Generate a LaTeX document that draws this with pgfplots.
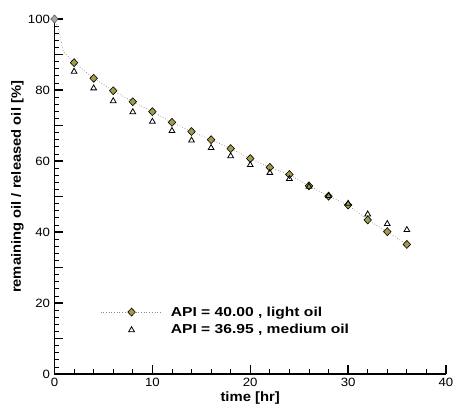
\documentclass[border=0pt]{standalone}
\usepackage{fontspec}
\setmainfont{Liberation Sans}[FakeStretch=1.1]
\newfontfamily\legfont{Liberation Sans}[FakeStretch=1.2]
\usepackage{pgfplots}
\pgfplotsset{compat=1.18}
\definecolor{olivept}{HTML}{A09C4A}
\definecolor{dotline}{HTML}{8C8C8C}
\pgfplotsset{
  lightleg/.style={legend image code/.code={
    \draw[dotline, dotted, line width=0.7pt] (0pt,0pt) -- (62pt,0pt);
    \draw[##1] plot coordinates {(31pt,0pt)};}},
  medleg/.style={legend image code/.code={
    \path[draw=none] (0pt,0pt) -- (62pt,0pt);
    \draw[##1] plot coordinates {(31pt,0pt)};}},
}

\begin{document}
\begin{tikzpicture}
\useasboundingbox (-54.5pt,-34pt) rectangle (398.5pt,374pt);
\begin{axis}[
  scale only axis,
  width=391.5pt, height=355pt,
  xmin=0, xmax=40, ymin=0, ymax=100,
  axis x line=bottom, axis y line=left,
  axis line style={-, line width=1.5pt},
  xtick={0,10,...,40}, minor x tick num=4,
  ytick={0,10,...,100}, yticklabels={0,,20,,40,,60,,80,,100},
  minor y tick num=4,
  tick align=inside,
  major tick length=9pt, minor tick length=5pt,
  every major tick/.style={line width=1.4pt, black},
  every minor tick/.style={line width=0.8pt, black},
  /pgf/number format/assume math mode=true,
  tick label style={font=\fontsize{12}{14}\selectfont},
  xticklabel style={yshift=-1pt},
  yticklabel style={xshift=-1pt},
  xlabel={\textbf{time [hr]}},
  ylabel={\textbf{remaining oil / released oil [\%]}},
  xlabel style={font=\fontsize{13.5}{15}\selectfont,
    at={(axis description cs:0.5,0)}, anchor=center, yshift=-24pt},
  ylabel style={font=\fontsize{13.4}{15}\selectfont,
    at={(axis description cs:0,0.527)}, anchor=center, yshift=37pt},
  legend style={at={(axis cs:4.65,19.6)}, anchor=north west, draw=none, fill=none,
    font=\legfont\bfseries\fontsize{13}{15}\selectfont, inner sep=0pt, row sep=3pt,
    /tikz/every odd column/.append style={column sep=6pt}},
  legend cell align=left,
]
% dotted trend line
\addplot[dotline, dotted, line width=0.7pt, forget plot] coordinates {
  (0,100) (0.4,97.4) (0.9,90.8) (2,87.7) (4,83.3) (6,79.8) (8,76.7) (10,73.9)
  (12,70.9) (14,68.3) (16,66.0) (18,63.5) (20,60.7) (22,58.2) (24,56.2)
  (26,53.0) (28,50.1) (30,47.6) (32,43.4) (34,40.1) (36,36.5)};
\addplot[only marks, mark=diamond*, mark size=4pt,
  mark options={fill=olivept, draw=black, line width=0.6pt, xscale=1.25}, lightleg]
  coordinates {
  (2,87.7) (4,83.3) (6,79.8) (8,76.7) (10,73.9) (12,70.9) (14,68.3)
  (16,66.0) (18,63.5) (20,60.7) (22,58.2) (24,56.2) (26,53.0) (28,50.1)
  (30,47.6) (32,43.4) (34,40.1) (36,36.5)};
\addlegendentry{API = 40.00 , light oil}
\addplot[only marks, mark=triangle, mark size=3.3pt,
  mark options={draw=black, fill=white, line width=0.8pt}, medleg]
  coordinates {
  (2,85.2) (4,80.5) (6,76.9) (8,73.8) (10,71.1) (12,68.5) (14,65.8)
  (16,63.7) (18,61.4) (20,58.9) (22,56.7) (24,55.0) (26,52.8) (28,50.2)
  (30,48.0) (32,45.0) (34,42.3) (36,40.6)};
\addlegendentry{API = 36.95 , medium oil}
\addplot[only marks, mark=diamond*, mark size=4pt, forget plot,
  mark options={fill=gray!70, draw=black!70, line width=0.5pt, xscale=1.25}]
  coordinates {(0,100)};
\end{axis}
\end{tikzpicture}
\end{document}
